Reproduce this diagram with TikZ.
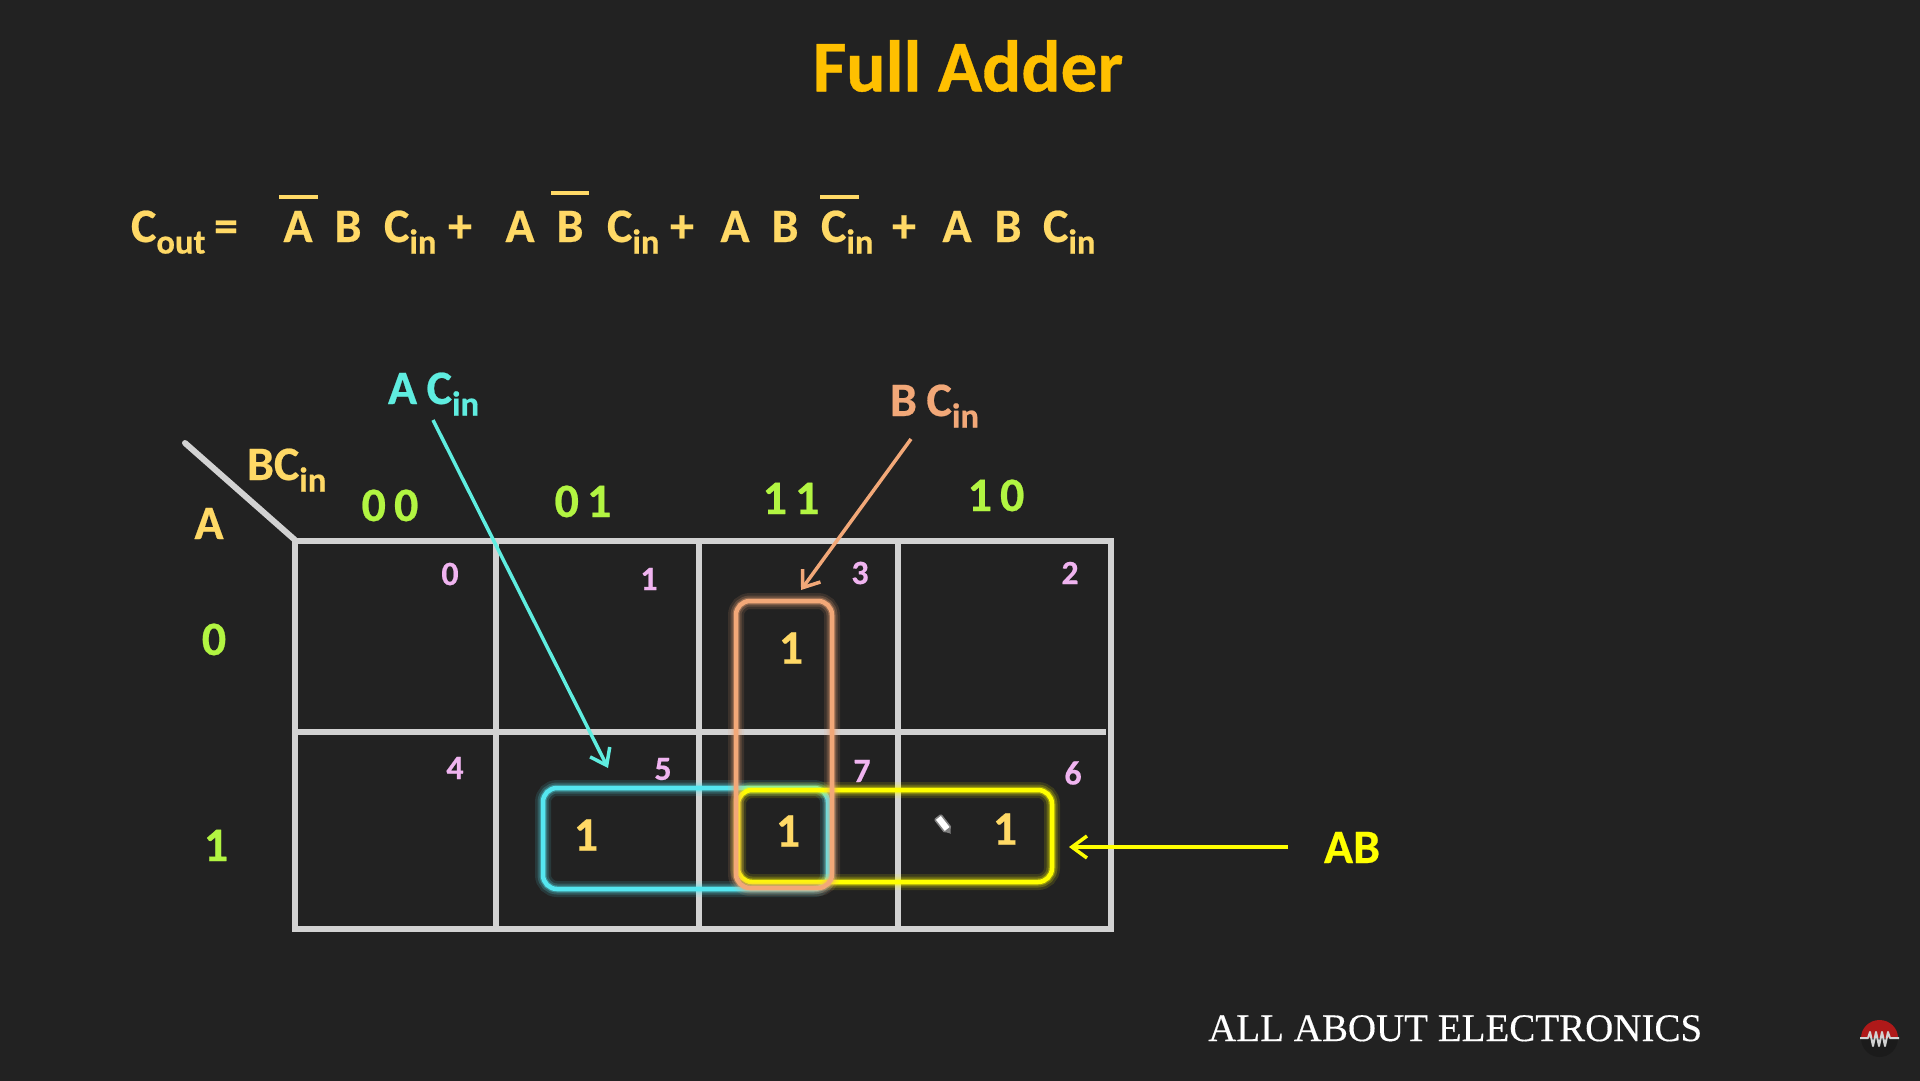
\documentclass[tikz,border=0pt]{standalone}
\usepackage{fontspec}
\usepackage{graphicx}
\setmainfont{Carlito}[BoldFont=Carlito Bold,BoldFeatures={FakeBold=0.5}]
\newfontfamily\wmfont{Liberation Serif}[FakeBold=0.3]
\usetikzlibrary{arrows.meta}
\definecolor{bgc}{HTML}{222222}
\definecolor{fyel}{HTML}{FFD966}
\definecolor{title}{HTML}{FFC000}
\definecolor{gridc}{HTML}{D2D2D2}
\definecolor{bitc}{HTML}{B2F542}
\definecolor{cellc}{HTML}{F0B4F0}
\definecolor{acol}{HTML}{5FEDE0}
\definecolor{bcol}{HTML}{F2A878}
\definecolor{abcol}{HTML}{FFFF00}
\definecolor{boxblue}{HTML}{55E6F0}
\newcommand{\subtxt}[1]{\raisebox{-0.24em}{\scalebox{0.72}{#1}}}
\newcommand{\Cin}{C\subtxt{in}}
\newcommand{\glowbox}[5]{%
  \draw[#1,rounded corners=14pt,line width=16pt,opacity=.12] (#2,#3) rectangle (#4,#5);
  \draw[#1,rounded corners=14pt,line width=11pt,opacity=.2] (#2,#3) rectangle (#4,#5);
  \draw[#1,rounded corners=14pt,line width=7pt,opacity=.35] (#2,#3) rectangle (#4,#5);
  \draw[#1,rounded corners=14pt,line width=4.5pt] (#2,#3) rectangle (#4,#5);
}
\tikzset{
  txt/.style={inner sep=0pt,outer sep=0pt,font=\bfseries\fontsize{48}{48}\selectfont},
  eq/.style={txt,text=fyel,anchor=base},
  eql/.style={txt,text=fyel,anchor=base west},
  bit/.style={txt,text=bitc,anchor=base},
  cell/.style={txt,text=cellc,font=\bfseries\fontsize{34}{34}\selectfont},
  one/.style={txt,text=fyel},
  bar/.style={fyel,line width=4pt},
  gridl/.style={gridc,line width=6pt},
  ptr/.style={line width=3.5pt,-{Straight Barb[length=15pt,width=22pt,line width=3.5pt]}}
}
\begin{document}
\begin{tikzpicture}[x=1pt,y=-1pt]
\useasboundingbox (0,0) rectangle (1920,1080);
\fill[bgc] (-5,-5) rectangle (1925,1085);

\node[txt,text=title,font=\bfseries\fontsize{73}{73}\selectfont] (ttl) at (968,66) {Full Adder};

% equation
\node[eql] (cout) at (131,242) {C\subtxt{out}};
\node[eq] (eqs) at (226,242) {=};
\node[eq] (a1) at (298,242) {A};
\node[eq] (b1) at (348,242) {B};
\node[eql] (c1) at (384,242) {\Cin};
\node[eq] (p1) at (460,242) {+};
\node[eq] (a2) at (520,242) {A};
\node[eq] (b2) at (570,242) {B};
\node[eql] (c2) at (607,242) {\Cin};
\node[eq] (p2) at (682,242) {+};
\node[eq] (a3) at (735,242) {A};
\node[eq] (b3) at (785,242) {B};
\node[eql] (c3) at (821,242) {\Cin};
\node[eq] (p3) at (904,242) {+};
\node[eq] (a4) at (957,242) {A};
\node[eq] (b4) at (1008,242) {B};
\node[eql] (c4) at (1043,242) {\Cin};
\draw[bar] (279,197) -- (318,197);
\draw[bar] (551,193) -- (589,193);
\draw[bar] (820,197) -- (859,197);

% grid
\draw[gridl] (295,541) rectangle (1111,929);
\draw[gridl] (496,541) -- (496,932);
\draw[gridl] (699,541) -- (699,932);
\draw[gridl] (898,541) -- (898,929);
\draw[gridl] (295,732) -- (1106,732);
\coordinate (corner) at (295,540);
\coordinate (cornerend) at (185,443);
\draw[gridc,line width=6pt,line cap=round] (cornerend) -- (corner);

% headers
\node[txt,text=fyel,anchor=base west] (bc) at (247,480) {BC\subtxt{in}};
\node[txt,text=fyel,anchor=base] (alab) at (209,539) {A};
\node[bit] (h00) at (390,521) {0\hspace{0.17em}0};
\node[bit] (h01) at (583,517) {0\hspace{0.17em}1};
\node[bit] (h11) at (791,514) {1\hspace{0.17em}1};
\node[bit] (h10) at (996,511) {1\hspace{0.17em}0};
\node[bit] (r0) at (214,655) {0};
\node[bit] (r1) at (216,861) {1};

% cell indices
\node[cell] (n0) at (450,574) {0};
\node[cell] (n1) at (649,579) {1};
\node[cell] (n3) at (860,573) {3};
\node[cell] (n2) at (1070,573) {2};
\node[cell] (n4) at (455,768) {4};
\node[cell] (n5) at (663,769) {5};
\node[cell] (n7) at (862,771) {7};
\node[cell] (n6) at (1073,773) {6};

% ones
\node[one] (v3) at (791,648) {1};
\node[one] (v5) at (586,835) {1};
\node[one] (v7) at (788,831) {1};
\node[one] (v6) at (1005,829) {1};

% groups
\glowbox{boxblue}{543}{788}{828}{889}
\glowbox{abcol}{738}{790}{1052}{882}
\glowbox{bcol}{736}{601}{832}{888}

% pencil cursor
\begin{scope}[shift={(944,825)},rotate=-52]
\fill[white,draw=gray,line width=1.5pt,rounded corners=1pt] (-10,-4) rectangle (6,4);
\fill[gray] (6,-3.5) -- (11,0) -- (6,3.5) -- cycle;
\end{scope}

% group labels and pointers
\node[txt,text=acol,anchor=base west] (lab1) at (388,404) {A\hspace{0.2em}\Cin};
\node[txt,text=bcol,anchor=base west] (lab2) at (890,416) {B\hspace{0.2em}\Cin};
\node[txt,text=abcol,anchor=base west] (lab3) at (1324,863) {AB};
\coordinate (s1) at (433,420);
\coordinate (e1) at (608,768);
\coordinate (s2) at (911,439);
\coordinate (e2) at (801,590);
\coordinate (s3) at (1288,847);
\coordinate (e3) at (1069,847);
\draw[ptr,acol] (s1) -- (e1);
\draw[ptr,bcol] (s2) -- (e2);
\draw[ptr,abcol] (s3) -- (e3);

% watermark
\node[inner sep=0pt,anchor=base west,text=white,font=\wmfont\fontsize{39}{39}\selectfont] (wm) at (1208,1041) {ALL ABOUT ELECTRONICS};
\fill[black!20!bgc] (1861,1038) arc[start angle=180,end angle=0,x radius=18.5,y radius=19] -- cycle;
\fill[red!65!black!90!white] (1861,1038) arc[start angle=180,end angle=360,x radius=18.5,y radius=18] -- cycle;
\draw[gridc,line width=2pt,line join=round] (1860,1038) -- (1868,1038) -- (1870,1032) -- (1873,1046) -- (1876,1032) -- (1879,1046) -- (1882,1032) -- (1885,1046) -- (1888,1032) -- (1890,1038) -- (1899,1038);
\end{tikzpicture}
\end{document}
